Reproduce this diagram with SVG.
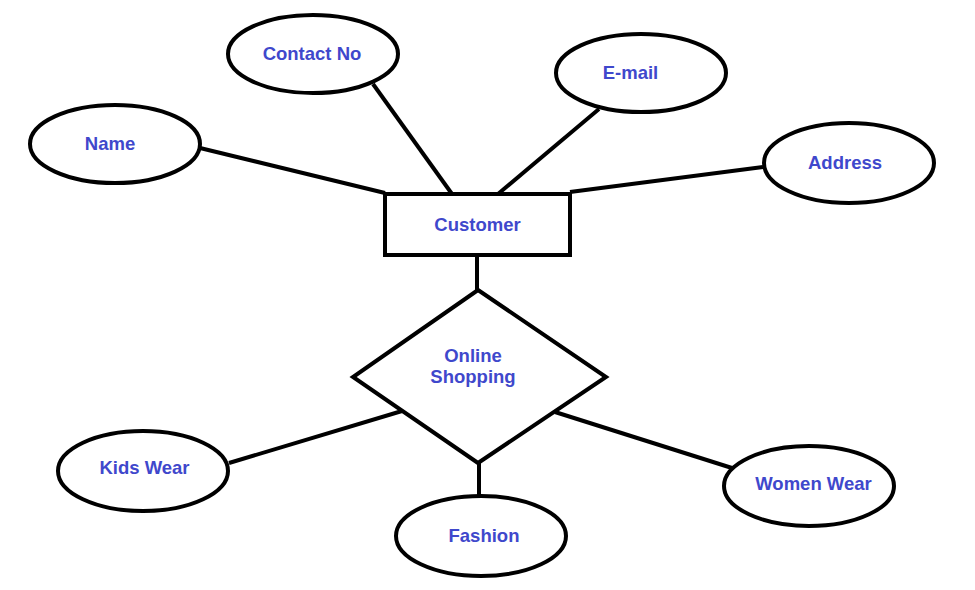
<svg xmlns="http://www.w3.org/2000/svg" width="975" height="590" viewBox="0 0 975 590">
<style>
.s{fill:#fff;stroke:#000;stroke-width:4}
.l{stroke:#000;stroke-width:4;fill:none}
.t{font-family:"Liberation Sans",Arial,sans-serif;font-weight:bold;font-size:18.5px;fill:#3f48cc;text-anchor:middle}
</style>
<rect width="975" height="590" fill="#fff"/>
<g id="connectors">
<line class="l" x1="200" y1="148" x2="385" y2="193"/>
<line class="l" x1="373" y1="84" x2="452" y2="194"/>
<line class="l" x1="599" y1="109" x2="498" y2="194"/>
<line class="l" x1="763" y1="167" x2="570" y2="192"/>
<line class="l" x1="477" y1="256" x2="477" y2="291"/>
<line class="l" x1="229" y1="463" x2="402" y2="411"/>
<line class="l" x1="479" y1="463" x2="479" y2="496"/>
<line class="l" x1="555" y1="412" x2="732" y2="468"/>
</g>
<g id="customer"><rect class="s" x="385" y="194" width="185" height="61"/><text class="t" x="477.5" y="231">Customer</text></g>
<g id="online-shopping"><polygon class="s" points="478,290 606,377 478,463 353,377"/><text class="t" x="473" y="362">Online</text><text class="t" x="473" y="383">Shopping</text></g>
<g id="name"><ellipse class="s" cx="115" cy="144" rx="85" ry="39"/><text class="t" x="110" y="150">Name</text></g>
<g id="contact-no"><ellipse class="s" cx="313" cy="54" rx="85" ry="39"/><text class="t" x="312" y="60">Contact No</text></g>
<g id="email"><ellipse class="s" cx="641" cy="73" rx="85" ry="39"/><text class="t" x="630.5" y="79">E-mail</text></g>
<g id="address"><ellipse class="s" cx="849" cy="163" rx="85" ry="40"/><text class="t" x="845" y="169">Address</text></g>
<g id="kids-wear"><ellipse class="s" cx="143" cy="471" rx="85" ry="40"/><text class="t" x="144.5" y="474">Kids Wear</text></g>
<g id="fashion"><ellipse class="s" cx="481" cy="536" rx="85" ry="40"/><text class="t" x="484" y="542">Fashion</text></g>
<g id="women-wear"><ellipse class="s" cx="809" cy="486" rx="85" ry="40"/><text class="t" x="813.5" y="490">Women Wear</text></g>
</svg>
